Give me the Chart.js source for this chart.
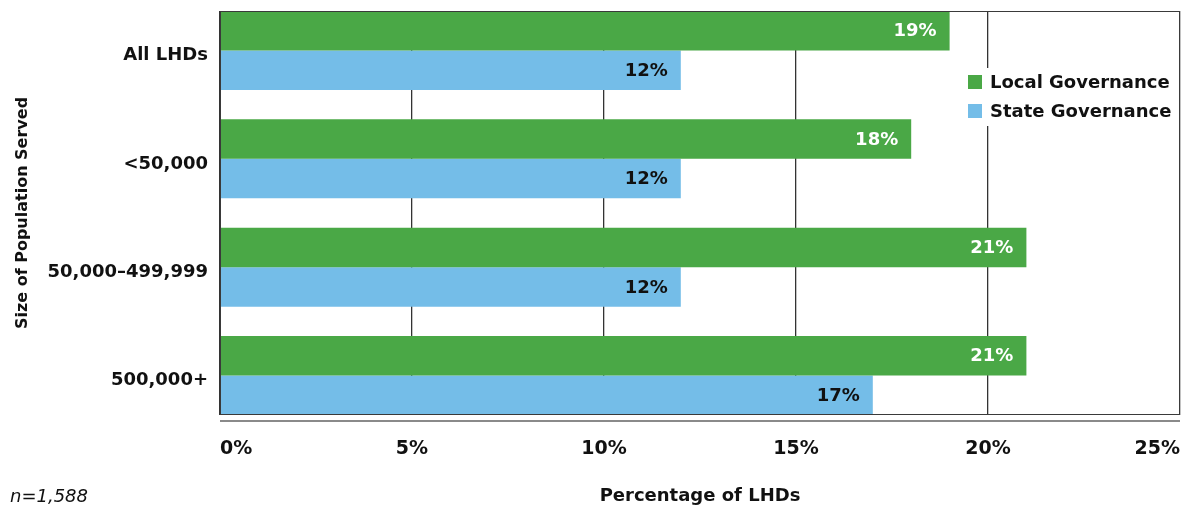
<!DOCTYPE html>
<html>
<head>
<meta charset="utf-8">
<title>Governance by size of population served</title>
<script src="https://cdn.jsdelivr.net/npm/chart.js@4/dist/chart.umd.min.js"></script>
<style>
  html, body { margin: 0; padding: 0; background: #fff; }
  #wrap { width: 1181px; height: 512px; position: relative; }
</style>
</head>
<body>
<div id="wrap"><canvas id="c" width="1181" height="512"></canvas></div>
<script>
// Categories (population served), top to bottom
const categories = ['All LHDs', '<50,000', '50,000\u2013499,999', '500,000+'];
// Percentage of LHDs by governance type
const localGovernance = [19, 18, 21, 21];
const stateGovernance = [12, 12, 12, 17];
// Axis ticks (percent)
const xTicks = [0, 5, 10, 15, 20, 25];
const sampleNote = 'n=1,588';

const FONT = '"DejaVu Sans", "Open Sans", sans-serif';
const GREEN = '#4aa846';
const BLUE = '#74bde8';
const CAT_PCT = 0.729;

const toPoints = vals => vals.map((v, i) => ({ x: v, y: i }));

// Box around the plot, separate base rule, and the italic sample note
const framePlugin = {
  id: 'frame',
  afterDatasetsDraw(chart) {
    const { ctx, chartArea: a } = chart;
    ctx.save();
    ctx.lineWidth = 1;
    ctx.strokeStyle = '#3a3a3a';
    ctx.strokeRect(a.left + 0.5, a.top + 0.5, a.right - a.left - 1, a.bottom - a.top - 1);
    ctx.strokeStyle = '#8a8a8a';
    ctx.lineWidth = 2;
    ctx.beginPath();
    ctx.moveTo(a.left, a.bottom + 6);
    ctx.lineTo(a.right, a.bottom + 6);
    ctx.stroke();
    ctx.fillStyle = '#111';
    ctx.font = 'oblique 18px ' + FONT;
    ctx.textAlign = 'left';
    ctx.textBaseline = 'middle';
    ctx.fillText(sampleNote, 10, 497);
    ctx.restore();
  }
};

// Value labels drawn inside the end of each bar
const valueLabels = {
  id: 'valueLabels',
  afterDatasetsDraw(chart) {
    const { ctx } = chart;
    ctx.save();
    ctx.font = 'bold 18px ' + FONT;
    ctx.textAlign = 'right';
    ctx.textBaseline = 'middle';
    chart.data.datasets.forEach((ds, di) => {
      const meta = chart.getDatasetMeta(di);
      ctx.fillStyle = ds.labelColor;
      meta.data.forEach((bar, i) => {
        ctx.fillText(ds.data[i].x + '%', bar.x - 13, bar.y + 1);
      });
    });
    ctx.restore();
  }
};

// Legend box floating in the upper right of the plot
const floatLegend = {
  id: 'floatLegend',
  afterDraw(chart) {
    const { ctx, chartArea: a } = chart;
    const x0 = a.right - 220;
    const y0 = a.top + 57;
    ctx.save();
    ctx.fillStyle = '#fff';
    ctx.fillRect(x0, y0, 218, 58);
    ctx.font = 'bold 18px ' + FONT;
    ctx.textAlign = 'left';
    ctx.textBaseline = 'middle';
    chart.data.datasets.forEach((ds, i) => {
      const cy = y0 + 14 + i * 29;
      ctx.fillStyle = ds.backgroundColor;
      ctx.fillRect(x0 + 8, cy - 7, 14, 14);
      ctx.fillStyle = '#111';
      ctx.fillText(ds.label, x0 + 30, cy + 1);
    });
    ctx.restore();
  }
};

new Chart(document.getElementById('c'), {
  type: 'bar',
  data: {
    datasets: [
      { label: 'Local Governance', data: toPoints(localGovernance), backgroundColor: GREEN, labelColor: '#ffffff' },
      { label: 'State Governance', data: toPoints(stateGovernance), backgroundColor: BLUE, labelColor: '#111111' }
    ]
  },
  options: {
    indexAxis: 'y',
    responsive: false,
    animation: false,
    devicePixelRatio: 1,
    layout: { padding: { top: 11, right: 1, bottom: 0, left: 0 } },
    datasets: { bar: { categoryPercentage: CAT_PCT, barPercentage: 1, borderWidth: 0 } },
    plugins: { legend: { display: false }, tooltip: { enabled: false } },
    scales: {
      x: {
        type: 'linear',
        min: xTicks[0],
        max: xTicks[xTicks.length - 1],
        afterBuildTicks: s => { s.ticks = xTicks.map(v => ({ value: v })); },
        afterFit: s => { s.height = 97; s.paddingLeft = 0; s.paddingRight = 0; },
        grid: { color: '#333333', lineWidth: 1.3, drawTicks: false, tickLength: 0 },
        border: { display: false },
        ticks: {
          align: 'inner',
          padding: 23,
          color: '#111',
          font: { family: FONT, size: 19, weight: 'bold' },
          callback: v => v + '%'
        },
        title: {
          display: true,
          text: 'Percentage of LHDs',
          color: '#111',
          font: { family: FONT, size: 18, weight: 'bold' },
          padding: { top: 0, bottom: 5 }
        }
      },
      y: {
        type: 'linear',
        offset: false,
        reverse: true,
        min: -CAT_PCT / 2,
        max: categories.length - 1 + CAT_PCT / 2,
        afterBuildTicks: s => { s.ticks = categories.map((_, i) => ({ value: i })); },
        afterFit: s => { s.width = 220; s.paddingTop = 0; s.paddingBottom = 0; },
        grid: { display: false, offset: false },
        border: { display: false },
        ticks: {
          padding: 4,
          labelOffset: 5,
          color: '#111',
          font: { family: FONT, size: 18, weight: 'bold' },
          callback: v => categories[v]
        },
        title: {
          display: true,
          text: 'Size of Population Served',
          color: '#111',
          font: { family: FONT, size: 16, weight: 'bold' },
          padding: { top: 13, bottom: 0 }
        }
      }
    }
  },
  plugins: [framePlugin, valueLabels, floatLegend]
});
</script>
</body>
</html>
